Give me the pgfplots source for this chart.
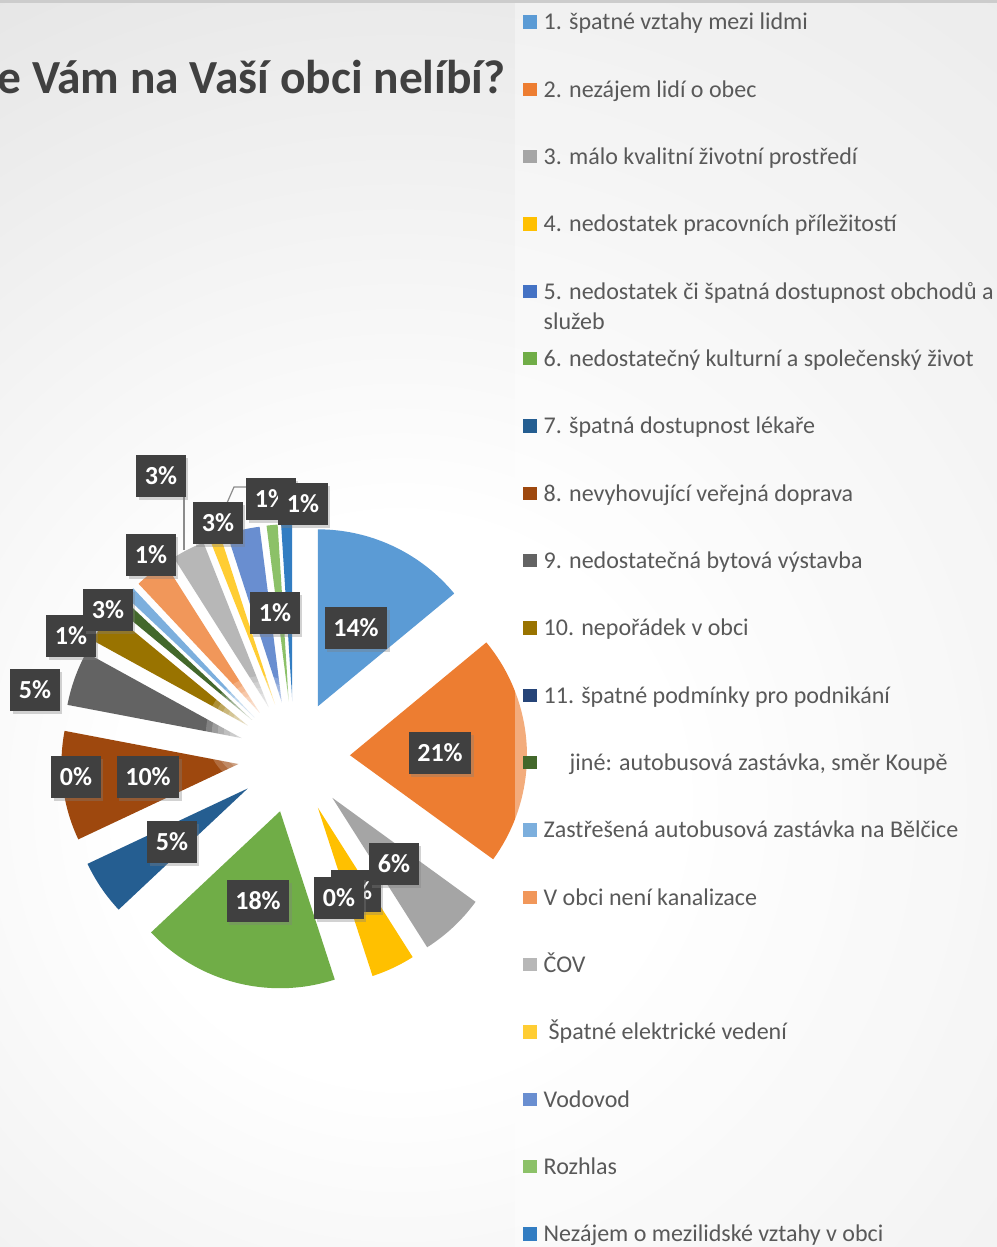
\documentclass[border=0pt]{standalone}
\usepackage{pgfplots}
\pgfplotsset{compat=1.18}
\usepackage{fontspec}
\setmainfont{Carlito}
\usetikzlibrary{shadows}

\definecolor{c1}{HTML}{5B9BD5}
\definecolor{c2}{HTML}{ED7D31}
\definecolor{c3}{HTML}{A5A5A5}
\definecolor{c4}{HTML}{FFC000}
\definecolor{c5}{HTML}{4472C4}
\definecolor{c6}{HTML}{70AD47}
\definecolor{c7}{HTML}{255E91}
\definecolor{c8}{HTML}{9E480E}
\definecolor{c9}{HTML}{636363}
\definecolor{c10}{HTML}{997300}
\definecolor{c11}{HTML}{264478}
\definecolor{c12}{HTML}{43682B}
\definecolor{c13}{HTML}{7CAFDD}
\definecolor{c14}{HTML}{F1975A}
\definecolor{c15}{HTML}{B7B7B7}
\definecolor{c16}{HTML}{FFCD33}
\definecolor{c17}{HTML}{698ED0}
\definecolor{c18}{HTML}{8CC168}
\definecolor{c19}{HTML}{327DC2}
\definecolor{bgout}{RGB}{210,210,210}
\definecolor{labbg}{HTML}{404040}
\definecolor{legtext}{HTML}{595959}
\definecolor{titletext}{HTML}{404040}

\pgfdeclareradialshading{bgshade}{\pgfpoint{0bp}{0bp}}{color(0bp)=(white); color(7bp)=(white); color(35bp)=(bgout); color(50bp)=(bgout)}

\begin{document}
\begin{tikzpicture}[x=0.01cm,y=0.01cm,
  lab/.style={fill=labbg, text=white, font=\fontsize{7.4pt}{8pt}\selectfont\bfseries,
    minimum height=0.41cm, inner xsep=0.085cm, inner ysep=0pt,
    drop shadow={shadow xshift=0.025cm, shadow yshift=-0.03cm, opacity=0.35}},
  leg/.style={anchor=base west, text=legtext, font=\fontsize{6.83pt}{8.25pt}\selectfont, inner sep=0pt}]
\useasboundingbox (0,0) rectangle (997,1247);
\clip (0,0) rectangle (997,1247);
% background
\shade[shading=bgshade] (400,447) circle (1000);

\begin{axis}[x=0.01cm, y=0.01cm, xmin=0, xmax=997, ymin=0, ymax=1247,
  hide axis, anchor=south west, at={(0,0)}, clip=false]
\def\cum{0}
\foreach \v/\c in {14/c1,21/c2,6/c3,4/c4,0/c5,18/c6,5/c7,10/c8,5/c9,3/c10,0/c11,1/c12,1/c13,3/c14,3/c15,1/c16,3/c17,1/c18,1/c19}{
  \pgfmathsetmacro\sa{\cum*3.6}
  \pgfmathsetmacro\sb{(\cum+\v)*3.6}
  \pgfmathsetmacro\sm{(\sa+\sb)/2}
  \pgfmathsetmacro\ax{294+56*sin(\sm)}
  \pgfmathsetmacro\ay{490+56*cos(\sm)}
  \ifdim\v pt>0pt
    \edef\temp{\noexpand\addplot[draw=none, fill=\c, domain=\sa:\sb, samples=40]
      ({\ax+177*sin(x)}, {\ay+177*cos(x)}) -- (axis cs:\ax,\ay) -- cycle;}
    \temp
  \fi
  \pgfmathsetmacro\newcum{\cum+\v}
  \xdef\cum{\newcum}
}
\end{axis}

% soft white glow at the pie centre
\foreach \r in {56,50,44,38,32,26,20,14}{
  \fill[white, opacity=0.2] (262,515) circle (\r);
}

% legend panel overlay
\fill[white, opacity=0.37] (515,0) rectangle (997,1244);
\fill[black!20] (0,1244) rectangle (997,1247);

% title
\node[anchor=base east, inner sep=0pt, text=titletext, font=\fontsize{13.5pt}{15pt}\selectfont\bfseries] at (506,1153) {e Vám na Vaší obci nelíbí?};

% leader lines
\draw[black!45, line width=0.35pt] (184,750) -- (184,697);
\draw[black!45, line width=0.35pt] (227,744) -- (234,760) -- (247,760);

% data labels
\node[lab] at (356,619) {14\%};
\node[lab] at (440,494) {21\%};
\node[lab] at (356,356) {4\%};
\node[lab] at (394,383) {6\%};
\node[lab] at (339,349) {0\%};
\node[lab] at (258,346) {18\%};
\node[lab] at (172,405) {5\%};
\node[lab] at (148,470) {10\%};
\node[lab] at (76,470) {0\%};
\node[lab] at (35,557) {5\%};
\node[lab] at (71,611) {1\%};
\node[lab] at (108,637) {3\%};
\node[lab] at (151,692) {1\%};
\node[lab] at (161,771) {3\%};
\node[lab] at (218,724) {3\%};
\node[lab] at (271,748) {1\%};
\node[lab] at (303,743) {1\%};
\node[lab] at (275,634) {1\%};

% legend
\foreach \i/\c/\t in {
  1/c1/{1. špatné vztahy mezi lidmi},
  2/c2/{2. nezájem lidí o obec},
  3/c3/{3. málo kvalitní životní prostředí},
  4/c4/{4. nedostatek pracovních příležitostí},
  5/c5/{5. nedostatek či špatná dostupnost obchodů a},
  6/c6/{6. nedostatečný kulturní a společenský život},
  7/c7/{7. špatná dostupnost lékaře},
  8/c8/{8. nevyhovující veřejná doprava},
  9/c9/{9. nedostatečná bytová výstavba},
  10/c10/{10. nepořádek v obci},
  11/c11/{11. špatné podmínky pro podnikání},
  12/c12/{},
  13/c13/{Zastřešená autobusová zastávka na Bělčice},
  14/c14/{V obci není kanalizace},
  15/c15/{ČOV},
  16/c16/{},
  17/c17/{Vodovod},
  18/c18/{Rozhlas},
  19/c19/{Nezájem o mezilidské vztahy v obci}}{
  \pgfmathsetmacro\yc{1247-(22+67.33*(\i-1))}
  \fill[\c] (523,\yc-6.75) rectangle (536.5,\yc+6.75);
  \node[leg] at (543,\yc-8) {\t};
}
\node[leg] at (543,918) {služeb};
\node[leg] at (569,476) {jiné: autobusová zastávka, směr Koupě};
\node[leg] at (548,207) {Špatné elektrické vedení};
\end{tikzpicture}
\end{document}
